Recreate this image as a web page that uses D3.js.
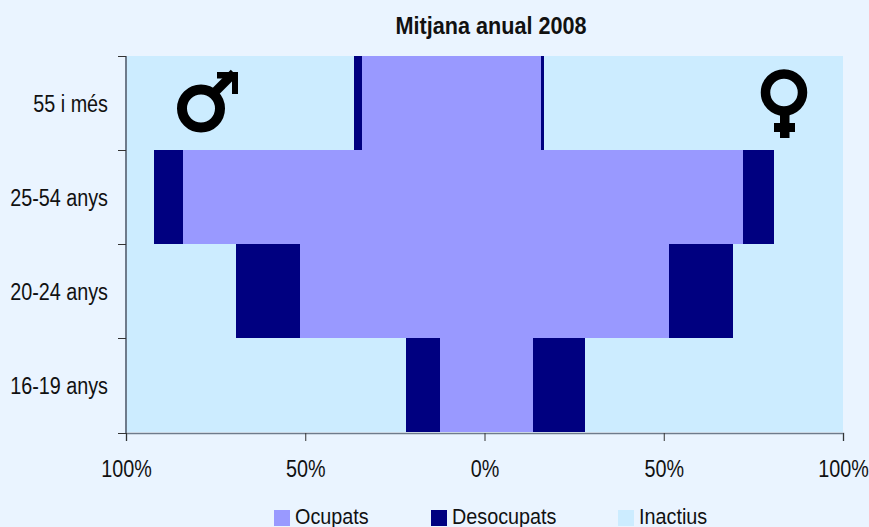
<!DOCTYPE html>
<html lang="en">
<head>
    <meta charset="UTF-8">
    <title>Mitjana anual 2008</title>
    <script src="https://d3js.org/d3.v7.min.js"></script>
    <style>
        html, body { margin: 0; padding: 0; background: #EAF4FF; }
        svg { display: block; }
        text { font-family: "Liberation Sans", Arial, sans-serif; fill: #111; }
    </style>
</head>
<body>
    <div id="chart"></div>
    <script>
        const title = "Mitjana anual 2008";
        const ages = ["55 i més", "25-54 anys", "20-24 anys", "16-19 anys"];
        const status = ["Ocupats", "Desocupats", "Inactius"];
        const colors = ["#9999FF", "#000080", "#CCECFF"];
        // percentages, same order as ages
        const menOcupats = [34.2, 84.1, 51.5, 12.4];
        const menDesocupats = [2.2, 8.1, 17.8, 9.5];
        const menInactius = [63.6, 7.8, 30.7, 78.1];
        const womenOcupats = [15.8, 72.1, 51.5, 13.5];
        const womenDesocupats = [0.8, 8.7, 17.8, 14.5];
        const womenInactius = [83.4, 19.2, 30.7, 72.0];
        const xTicks = [-100, -50, 0, 50, 100];

        const width = 869, height = 527;
        const fontSize = 23, squeeze = 0.86;
        const svg = d3.select("#chart").append("svg")
            .attr("width", width).attr("height", height);

        const x = d3.scaleLinear().domain([-100, 100]).range([126, 843]);
        const y = d3.scaleBand().domain(ages).range([56.4, 432.4]);

        // sum of the segments before segment i in row j
        function offset(values, i, j) {
            return d3.sum(values.slice(0, i), v => v[j]);
        }

        function drawSide(values, sign) {
            values.forEach((v, i) => {
                svg.append("g").selectAll("rect")
                    .data(ages)
                    .enter()
                    .append("rect")
                    .attr("x", (d, j) => sign < 0 ? x(-(offset(values, i, j) + v[j])) : x(offset(values, i, j)))
                    .attr("y", d => y(d))
                    .attr("width", (d, j) => x(v[j]) - x(0))
                    .attr("height", y.bandwidth())
                    .attr("fill", colors[i])
                    .attr("shape-rendering", "crispEdges");
            });
        }

        drawSide([menOcupats, menDesocupats, menInactius], -1);
        drawSide([womenOcupats, womenDesocupats, womenInactius], 1);

        const axisColor = "#6E7B8B";

        const xAxis = svg.append("g")
            .attr("transform", "translate(0,433)")
            .call(d3.axisBottom(x).tickValues(xTicks).tickSize(8)
                .tickFormat(d => Math.abs(d) + "%"));
        xAxis.select(".domain").attr("stroke", axisColor).attr("stroke-width", 1.5);
        xAxis.selectAll("line").attr("stroke", "#333");
        xAxis.selectAll("text")
            .attr("font-size", fontSize)
            .attr("y", 44).attr("dy", 0)
            .attr("transform", `scale(${squeeze},1)`)
            .attr("fill", "#111");

        const yAxis = svg.append("g").attr("transform", "translate(126,0)");
        yAxis.append("line")
            .attr("y1", 56).attr("y2", 433)
            .attr("stroke", axisColor).attr("stroke-width", 2);
        yAxis.selectAll(".tick-mark")
            .data([56, ...ages.slice(1).map(d => y(d)), 433])
            .enter().append("line")
            .attr("x1", -8).attr("x2", 0)
            .attr("y1", d => Math.round(d) + 0.5).attr("y2", d => Math.round(d) + 0.5)
            .attr("stroke", "#333");
        yAxis.selectAll(".label")
            .data(ages)
            .enter().append("text")
            .attr("text-anchor", "end")
            .attr("font-size", fontSize)
            .attr("transform", d => `translate(-18,${y(d) + y.bandwidth() / 2 + 9}) scale(${squeeze},1)`)
            .text(d => d);

        svg.append("text")
            .attr("transform", "translate(491,34) scale(0.94,1)")
            .attr("text-anchor", "middle")
            .attr("font-size", fontSize)
            .attr("font-weight", "bold")
            .text(title);

        // male sign
        const male = svg.append("g").attr("fill", "none").attr("stroke", "#000").attr("stroke-width", 10);
        male.append("circle").attr("cx", 201).attr("cy", 108.5).attr("r", 19);
        male.append("path").attr("d", "M214,93L234,73").attr("stroke-width", 9);
        male.append("rect").attr("x", 217).attr("y", 72).attr("width", 21).attr("height", 6.5).attr("fill", "#000").attr("stroke", "none");
        male.append("rect").attr("x", 232).attr("y", 72).attr("width", 6).attr("height", 22).attr("fill", "#000").attr("stroke", "none");

        // female sign
        const female = svg.append("g").attr("fill", "none").attr("stroke", "#000").attr("stroke-width", 9.5);
        female.append("circle").attr("cx", 784).attr("cy", 92.5).attr("r", 18.5);
        female.append("rect").attr("x", 780).attr("y", 113).attr("width", 9.5).attr("height", 25).attr("fill", "#000").attr("stroke", "none");
        female.append("rect").attr("x", 774).attr("y", 123).attr("width", 21).attr("height", 9).attr("fill", "#000").attr("stroke", "none");

        // legend, a touch smaller than the axis text so the descenders stay on the page
        const legendX = [274, 431, 618];
        const legend = svg.selectAll(".legend")
            .data(status)
            .enter().append("g")
            .attr("transform", (d, i) => `translate(${legendX[i]},510)`);
        legend.append("rect")
            .attr("width", 16).attr("height", 16)
            .attr("fill", (d, i) => colors[i]);
        legend.append("text")
            .attr("transform", "translate(21,14) scale(0.9,1)")
            .attr("font-size", 22)
            .text(d => d);
    </script>
</body>
</html>
